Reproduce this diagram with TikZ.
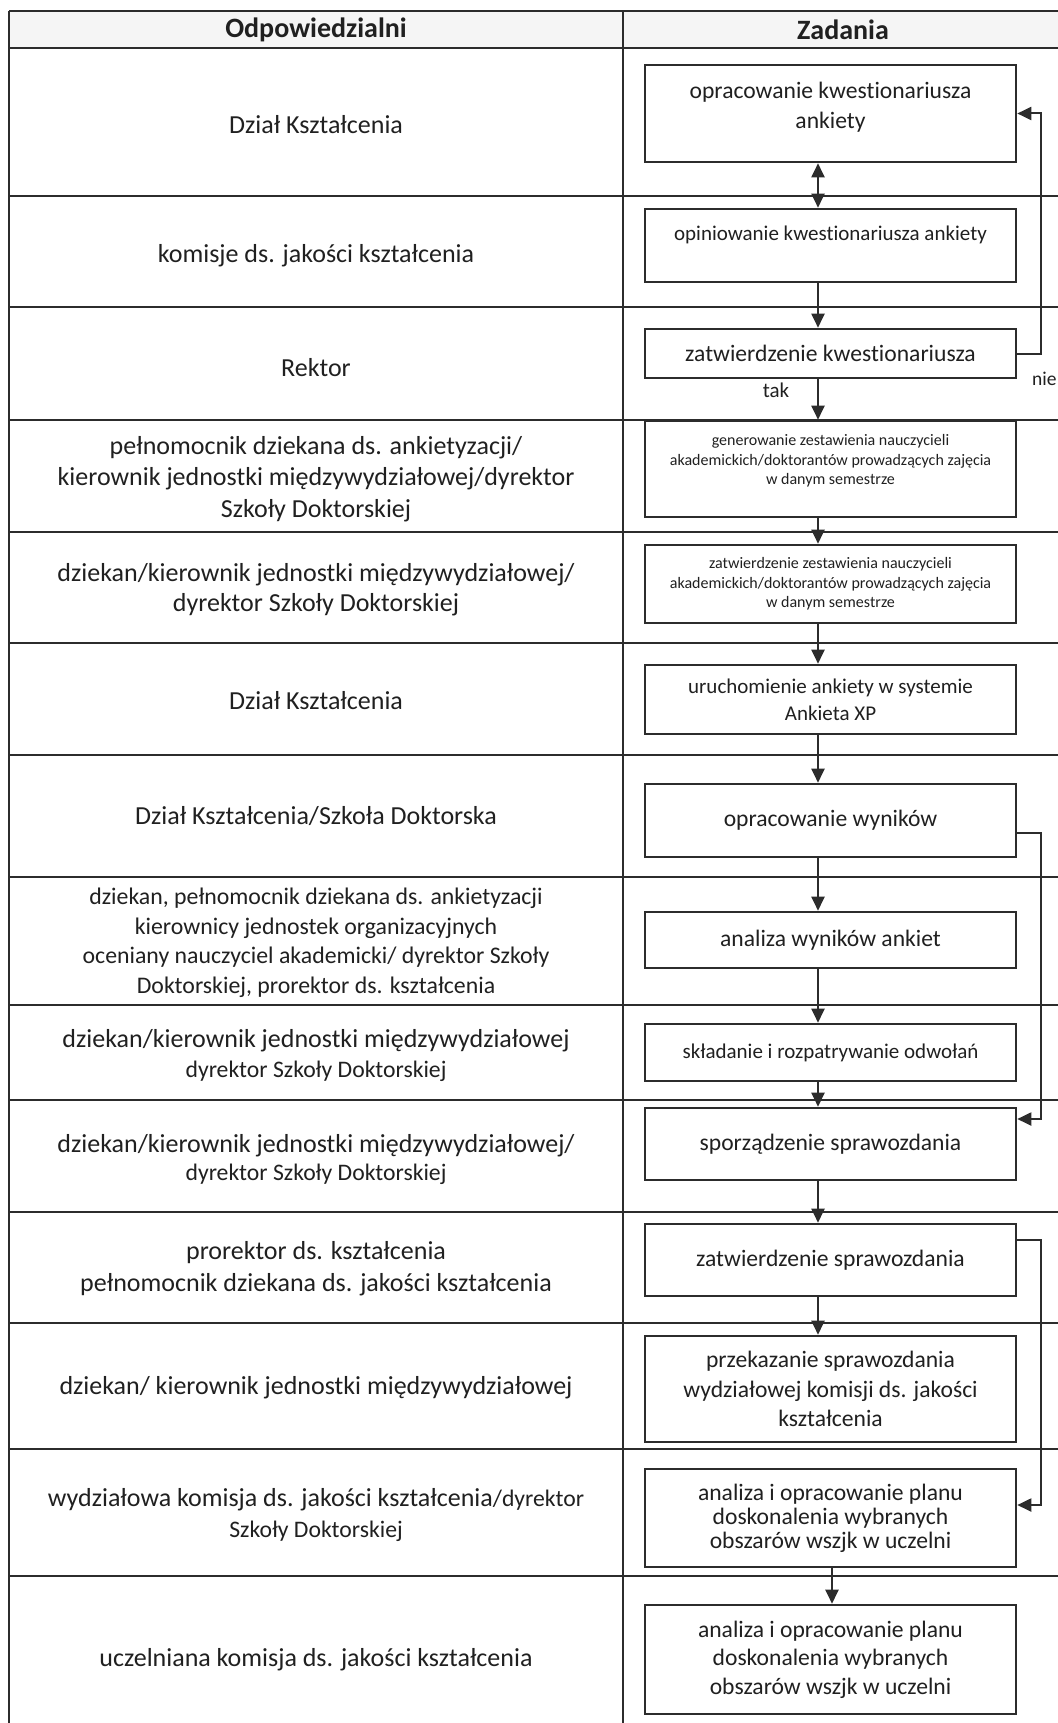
\documentclass[tikz,border=0pt]{standalone}
\usepackage{fontspec}
\setmainfont{Carlito}[Ligatures={NoCommon,NoContextual}]
\usetikzlibrary{arrows.meta,calc}
\definecolor{ink}{HTML}{202020}
\definecolor{rulec}{HTML}{2C2C2C}
\newcommand\fs[2]{\fontsize{#1}{#2}\selectfont}
\begin{document}
\begin{tikzpicture}[x=1pt,y=-1pt,
  gridline/.style={draw=rulec,line width=1.8pt},
  task/.style={draw=rulec,line width=2.6pt,minimum width=371pt,inner sep=0pt,align=center,text=ink,font=\fs{23.6}{30}},
  who/.style={align=center,text=ink,font=\fs{26}{31.5},inner sep=0pt},
  head/.style={text=ink,font=\bfseries\fs{28}{32},inner sep=0pt},
  flow/.style={draw=rulec,line width=2pt,-{Triangle[width=13pt,length=14pt]}},
  biflow/.style={draw=rulec,line width=2pt,{Triangle[width=13pt,length=14pt]}-{Triangle[width=13pt,length=14pt]}},
  lbl/.style={text=ink,font=\fs{21}{25},inner sep=0pt}]
\useasboundingbox (0,0) rectangle (1057,1723);
\fill[white] (0,0) rectangle (1057,1723);
% header
\fill[black!4] (9,11) rectangle (1070,48);
% grid
\foreach \yy in {11,48,196,307,420,532,643,755,877,1005,1100,1212,1323,1449,1576}
  \draw[gridline] (9,\yy) -- (1070,\yy);
\draw[gridline] (9,11) -- (9,1730);
\draw[gridline] (623,11) -- (623,1730);
% headers
\node[head] (h1) at (316,30) {Odpowiedzialni};
\node[head] (h2) at (843,30) {Zadania};
% left column
\node[who] (l1) at (316,125) {Dział Kształcenia};
\node[who] (l2) at (316,256) {komisje ds. jakości kształcenia};
\node[who] (l3) at (316,368) {Rektor};
\node[who] (l4) at (316,479) {pełnomocnik dziekana ds. ankietyzacji/\\kierownik jednostki międzywydziałowej/dyrektor\\Szkoły Doktorskiej};
\node[who,font=\fs{26}{30}] (l5) at (316,590) {dziekan/kierownik jednostki międzywydziałowej/\\dyrektor Szkoły Doktorskiej};
\node[who] (l6) at (316,701) {Dział Kształcenia};
\node[who] (l7) at (316,816) {Dział Kształcenia/Szkoła Doktorska};
\node[who,font=\fs{23.8}{29.5}] (l8) at (316,943) {dziekan, pełnomocnik dziekana ds. ankietyzacji\\kierownicy jednostek organizacyjnych\\oceniany nauczyciel akademicki/ dyrektor Szkoły\\Doktorskiej, prorektor ds. kształcenia};
\node[who,font=\fs{26}{30}] (l9) at (316,1055) {dziekan/kierownik jednostki międzywydziałowej\\{\fs{23.7}{30}dyrektor Szkoły Doktorskiej}};
\node[who,font=\fs{26}{28}] (l10) at (316,1159) {dziekan/kierownik jednostki międzywydziałowej/\\{\fs{23.7}{28}dyrektor Szkoły Doktorskiej}};
\node[who,font=\fs{26}{32}] (l11) at (316,1269) {prorektor ds. kształcenia\\pełnomocnik dziekana ds. jakości kształcenia};
\node[who] (l12) at (316,1388) {dziekan/ kierownik jednostki międzywydziałowej};
\node[who,font=\fs{26}{31}] (l13) at (316,1515) {wydziałowa komisja ds. jakości kształcenia{\fs{23.7}{31}/dyrektor}\\{\fs{23.7}{31}Szkoły Doktorskiej}};
\node[who] (l14) at (316,1660) {uczelniana komisja ds. jakości kształcenia};
% task boxes
\node[task,minimum height=97pt,text depth=16.7pt] (b1) at (830.5,113.5) {opracowanie kwestionariusza\\ankiety};
\node[task,minimum height=73pt,font=\fs{21}{26},text depth=25pt] (b2) at (830.5,245.5) {opiniowanie kwestionariusza ankiety};
\node[task,minimum height=49pt] (b3) at (830.5,353.5) {zatwierdzenie kwestionariusza};
\node[task,minimum height=96pt,font=\fs{16}{19.5},text depth=19pt] (b4) at (830.5,469) {generowanie zestawienia nauczycieli\\akademickich/doktorantów prowadzących zajęcia\\w danym semestrze};
\node[task,minimum height=78pt,font=\fs{16}{19.5}] (b5) at (830.5,584) {zatwierdzenie zestawienia nauczycieli\\akademickich/doktorantów prowadzących zajęcia\\w danym semestrze};
\node[task,minimum height=69pt,font=\fs{21}{27}] (b6) at (830.5,699.5) {uruchomienie ankiety w systemie\\Ankieta XP};
\node[task,minimum height=73pt] (b7) at (830.5,820.5) {opracowanie wyników};
\node[task,minimum height=56pt] (b8) at (830.5,940) {analiza wyników ankiet};
\node[task,minimum height=57pt,font=\fs{21}{26}] (b9) at (830.5,1052.5) {składanie i rozpatrywanie odwołań};
\node[task,minimum height=72pt] (b10) at (830.5,1144) {sporządzenie sprawozdania};
\node[task,minimum height=72pt] (b11) at (830.5,1260) {zatwierdzenie sprawozdania};
\node[task,minimum height=106pt,font=\fs{23.6}{29.5}] (b12) at (830.5,1389) {przekazanie sprawozdania\\wydziałowej komisji ds. jakości\\kształcenia};
\node[task,minimum height=98pt,font=\fs{23.6}{24}] (b13) at (830.5,1518) {analiza i opracowanie planu\\doskonalenia wybranych\\obszarów wszjk w uczelni};
\node[task,minimum height=109pt,font=\fs{23.6}{28.5}] (b14) at (830.5,1659.5) {analiza i opracowanie planu\\doskonalenia wybranych\\obszarów wszjk w uczelni};
% helper coordinates
\coordinate (ax) at (818,0);
\coordinate (ax2) at (832,0);
\coordinate (fx) at (1041,0);
% vertical flow
\draw[biflow] (b1.south -| ax) -- (b2.north -| ax);
\draw[flow] (b2.south -| ax) -- (b3.north -| ax);
\draw[flow] (b3.south -| ax) -- (b4.north -| ax);
\draw[flow] (b4.south -| ax) -- (b5.north -| ax);
\draw[flow] (b5.south -| ax) -- (b6.north -| ax);
\draw[flow] (b6.south -| ax) -- (b7.north -| ax);
\draw[flow] (b7.south -| ax) -- (b8.north -| ax);
\draw[flow] (b8.south -| ax) -- (b9.north -| ax);
\draw[flow] (b9.south -| ax) -- (b10.north -| ax);
\draw[flow] (b10.south -| ax) -- (b11.north -| ax);
\draw[flow] (b11.south -| ax) -- (b12.north -| ax);
\draw[flow] (b13.south -| ax2) -- (b14.north -| ax2);
% feedback loops
\draw[flow] (b3.east) -- (b3.east -| fx) -- (b1.east -| fx) -- (b1.east);
\draw[flow] ([yshift=-12.5pt]b7.east) -- ([yshift=-12.5pt]b7.east -| fx) -- ([yshift=25pt]b10.east -| fx) -- ([yshift=25pt]b10.east);
\draw[flow] ([yshift=20pt]b11.east) -- ([yshift=20pt]b11.east -| fx) -- ([yshift=13pt]b13.east -| fx) -- ([yshift=13pt]b13.east);
% labels
\node[lbl] (tak) at (776,390) {tak};
\node[lbl,anchor=west,font=\fs{19.5}{24}] (nie) at (1032,379) {nie};
\end{tikzpicture}
\end{document}
